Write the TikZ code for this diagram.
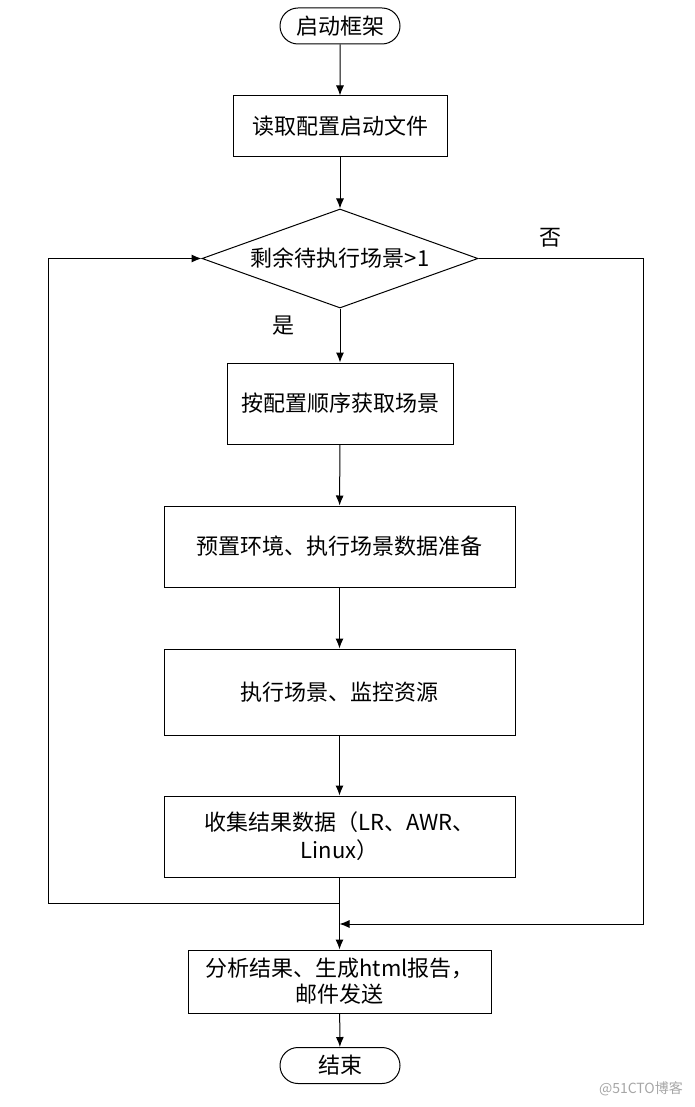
\documentclass[tikz,border=0pt]{standalone}
\usepackage{fontspec}
\setmainfont{Noto Sans CJK SC}
\usetikzlibrary{arrows.meta,shapes.geometric,shapes.misc}

\begin{document}
\begin{tikzpicture}[x=0.5pt,y=-0.5pt,
    line width=0.5pt,
    font=\fontsize{11}{14}\selectfont,
    arr/.style={-{Latex[length=5pt,width=4pt]}},
    proc/.style={rectangle, draw, align=center, inner sep=0pt},
    term/.style={rounded rectangle, draw, minimum width=60pt, minimum height=18pt, inner sep=0pt},
    cond/.style={diamond, draw, aspect=2.79, minimum width=138pt, minimum height=49.5pt, inner sep=0pt}]

      \useasboundingbox (0,0) rectangle (695,1107);

      \node[term] at (340,26) (start) {启动框架};
      \node[proc, minimum width=107pt, minimum height=30.5pt] at (340,126.5) (read) {读取配置启动文件};
      \node[cond] at (340,258.5) (check) {剩余待执行场景>1};

      \node at (550,238) (no) {否};
      \node at (283,326) (yes) {是};

      \node[proc, minimum width=113pt, minimum height=40.5pt] at (340,403.5) (fetch) {按配置顺序获取场景};
      \node[proc, minimum width=175.5pt, minimum height=40.5pt] at (339.5,546.5) (prep) {预置环境、执行场景数据准备};
      \node[proc, minimum width=175.5pt, minimum height=43pt] at (339.5,692) (run) {执行场景、监控资源};
      \node[proc, minimum width=175.5pt, minimum height=40.5pt] at (339.5,836.5) (collect) {收集结果数据（LR、AWR、\\Linux）};
      \node[proc, minimum width=151.5pt, minimum height=31.5pt, font=\fontsize{11}{13}\selectfont] at (339.5,981.5) (report) {分析结果、生成html报告，\\邮件发送};
      \node[term] at (340,1065.5) (finish) {结束};

      \node[text=gray!70, font=\fontsize{7}{8}\selectfont, anchor=east] at (690,1089) (mark) {@51CTO博客};

      \draw[arr] (start) -- (read);
      \draw[arr] (read) -- (check);
      \draw[arr] (check) -- (fetch);
      \draw[arr] (fetch) -- (prep);
      \draw[arr] (prep) -- (run);
      \draw[arr] (run) -- (collect);
      \draw[arr] (collect) -- (report);
      \draw[arr] (report) -- (finish);

      % loop back to the condition
      \coordinate (back) at (48,903);
      \draw[arr] (collect.south |- back) -- (back) |- (check.west);

      % no more scenes
      \coordinate (out) at (643,924);
      \draw[arr] (check.east) -| (out) -- (collect.south |- out);
    \end{tikzpicture}
\end{document}
